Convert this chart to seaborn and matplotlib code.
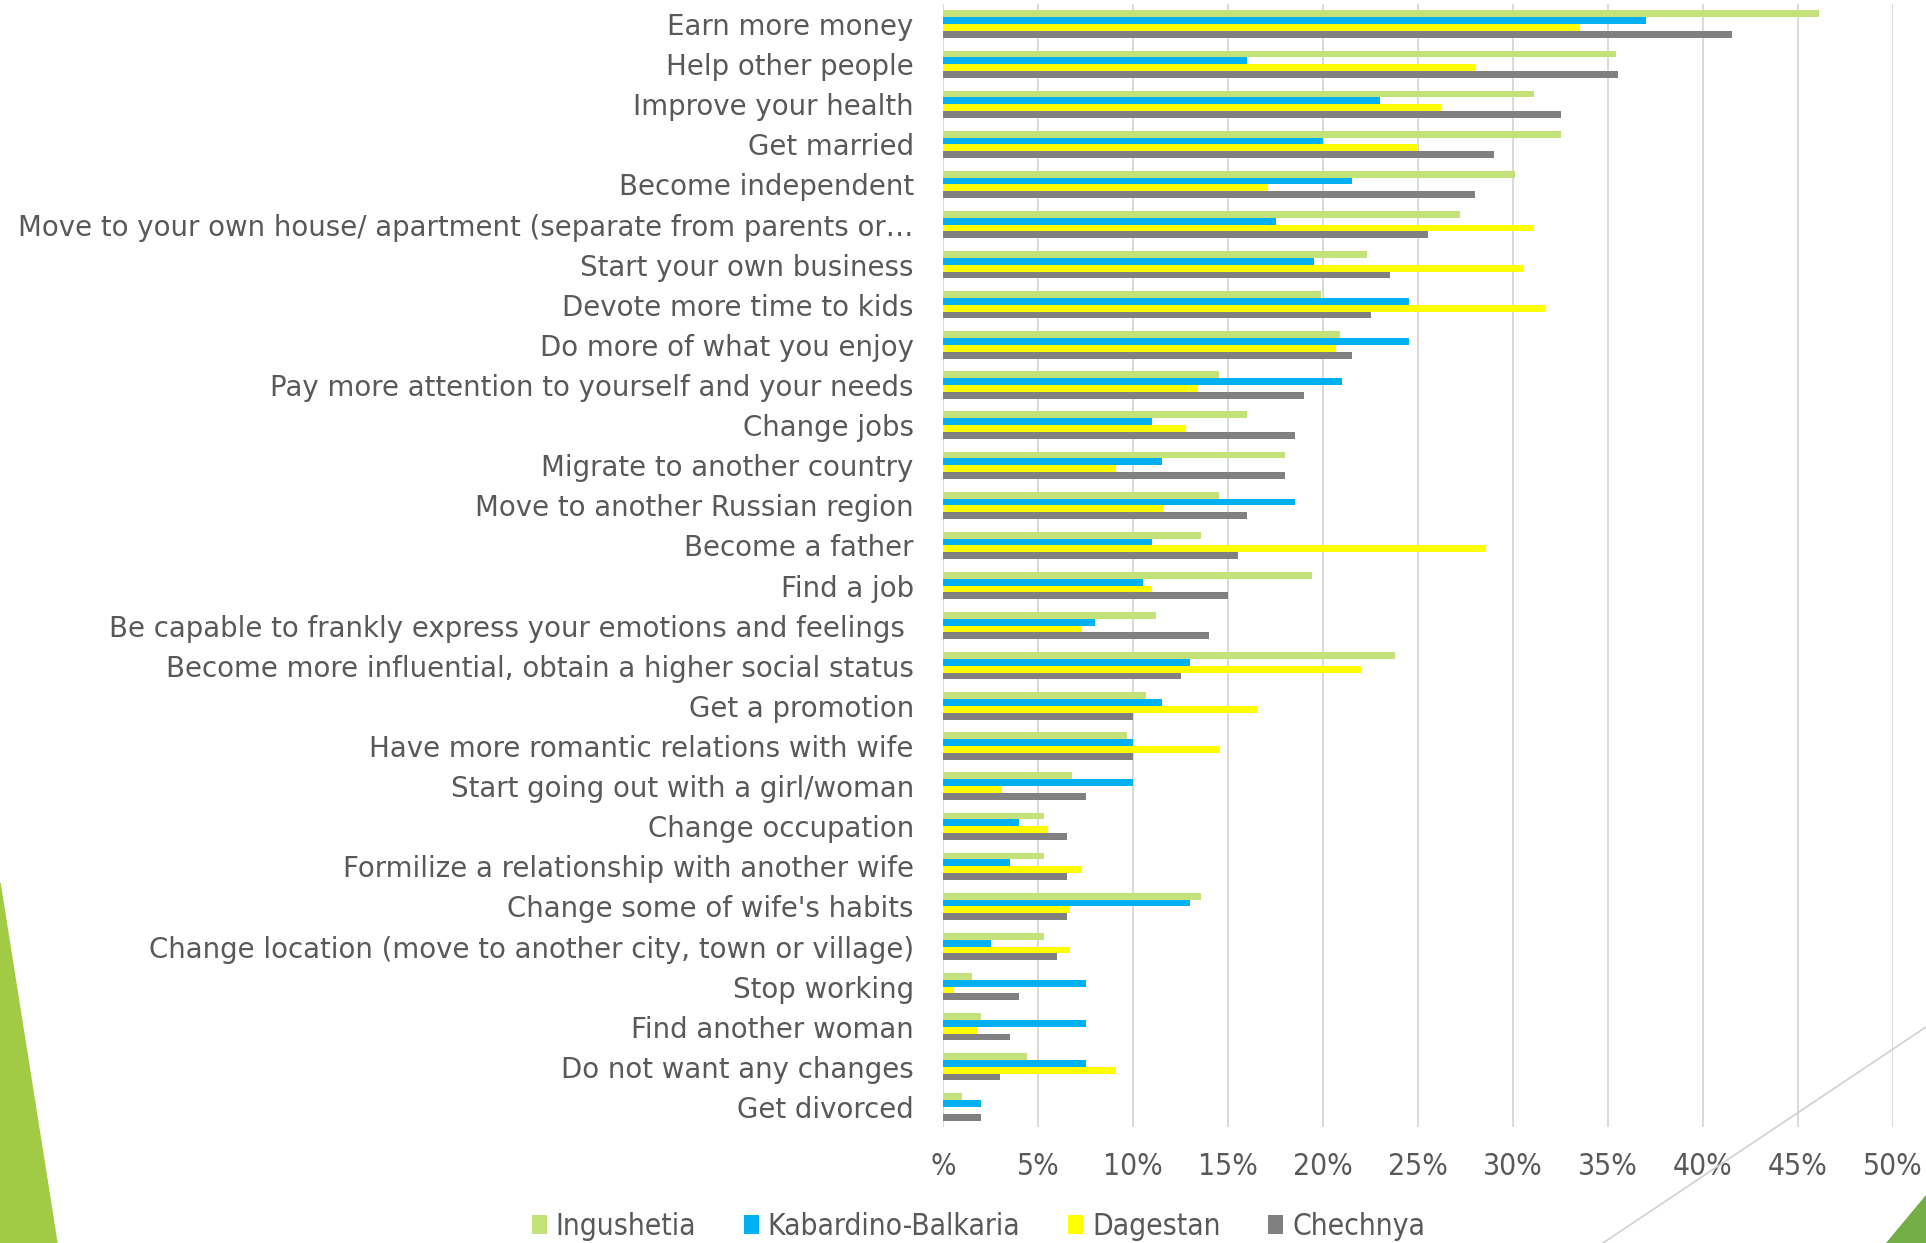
import seaborn as sns
import pandas as pd
import matplotlib.pyplot as plt
import matplotlib.ticker as ticker
from matplotlib.patches import Polygon
from matplotlib.lines import Line2D

items = [
    "Earn more money",
    "Help other people",
    "Improve your health",
    "Get married",
    "Become independent",
    "Move to your own house/ apartment (separate from parents or\u2026",
    "Start your own business",
    "Devote more time to kids",
    "Do more of what you enjoy",
    "Pay more attention to yourself and your needs",
    "Change jobs",
    "Migrate to another country",
    "Move to another Russian region",
    "Become a father",
    "Find a job",
    "Be capable to frankly express your emotions and feelings ",
    "Become more influential, obtain a higher social status",
    "Get a promotion",
    "Have more romantic relations with wife",
    "Start going out with a girl/woman",
    "Change occupation",
    "Formilize a relationship with another wife",
    "Change some of wife's habits",
    "Change location (move to another city, town or village)",
    "Stop working",
    "Find another woman",
    "Do not want any changes",
    "Get divorced",
]

regions = ["Ingushetia", "Kabardino-Balkaria", "Dagestan", "Chechnya"]

ingushetia = [46.1, 35.4, 31.1, 32.5, 30.1, 27.2, 22.3, 19.9, 20.9, 14.5,
              16.0, 18.0, 14.5, 13.6, 19.4, 11.2, 23.8, 10.7, 9.7, 6.8,
              5.3, 5.3, 13.6, 5.3, 1.5, 2.0, 4.4, 1.0]
kabardino = [37.0, 16.0, 23.0, 20.0, 21.5, 17.5, 19.5, 24.5, 24.5, 21.0,
             11.0, 11.5, 18.5, 11.0, 10.5, 8.0, 13.0, 11.5, 10.0, 10.0,
             4.0, 3.5, 13.0, 2.5, 7.5, 7.5, 7.5, 2.0]
dagestan = [33.5, 28.0, 26.2, 25.0, 17.1, 31.1, 30.5, 31.7, 20.7, 13.4,
            12.8, 9.1, 11.6, 28.6, 11.0, 7.3, 22.0, 16.5, 14.6, 3.1,
            5.5, 7.3, 6.7, 6.7, 0.6, 1.8, 9.1, 0.0]
chechnya = [41.5, 35.5, 32.5, 29.0, 28.0, 25.5, 23.5, 22.5, 21.5, 19.0,
            18.5, 18.0, 16.0, 15.5, 15.0, 14.0, 12.5, 10.0, 10.0, 7.5,
            6.5, 6.5, 6.5, 6.0, 4.0, 3.5, 3.0, 2.0]

colors = ["#C3E37A", "#00B0F0", "#FFFF00", "#808080"]

xticks = [0, 5, 10, 15, 20, 25, 30, 35, 40, 45, 50]
xtick_labels = ["%", "5%", "10%", "15%", "20%", "25%", "30%", "35%", "40%", "45%", "50%"]

W, H = 1926, 1243


def set_plot_params():
    sns.set_style("white")
    params = {
        "figure.figsize": (W / 100, H / 100),
        "figure.dpi": 100,
        "font.family": ["DejaVu Sans"],
        "text.color": "#595959",
        "xtick.color": "#595959",
        "ytick.color": "#595959",
    }
    plt.rcParams.update(params)


def px(x, y):
    # pixel position (from top-left) -> figure fraction
    return (x / W, 1 - y / H)


set_plot_params()

df = pd.DataFrame({
    "item": items * 4,
    "region": sum([[r] * len(items) for r in regions], []),
    "value": ingushetia + kabardino + dagestan + chechnya,
})

fig = plt.figure()
ax = fig.add_axes([943 / W, 1 - 1127 / H, 950 / W, 1123 / H])

sns.barplot(
    data=df,
    x="value",
    y="item",
    hue="region",
    order=items,
    hue_order=regions,
    palette=colors,
    orient="h",
    width=0.68,
    saturation=1,
    linewidth=0,
    ax=ax,
    zorder=3,
)

ax.set_xlim(0, 50)
ax.set_ylim(len(items) - 0.5, -0.5)
ax.xaxis.set_major_locator(ticker.FixedLocator(xticks))
ax.set_xticklabels(xtick_labels, fontstretch="condensed", fontsize=21.5)
ax.tick_params(axis="x", length=0, pad=18)
ax.tick_params(axis="y", length=0, pad=21, labelsize=19.9)
ax.set_xlabel("")
ax.set_ylabel("")
ax.grid(axis="x", color="#D9D9D9", linewidth=1.4)
ax.set_axisbelow(True)
sns.despine(ax=ax, left=True, bottom=True)

handles, labels = ax.get_legend_handles_labels()
ax.get_legend().remove()
fig.legend(
    handles,
    labels,
    loc="center",
    bbox_to_anchor=(0.508, 0.013),
    ncol=4,
    frameon=False,
    prop={"stretch": "condensed", "size": 21.5},
    handlelength=0.5,
    handleheight=0.6,
    handletextpad=0.3,
    columnspacing=1.6,
    borderpad=0,
)

# slide decorations
fig.add_artist(Polygon([px(0, 883), px(57, H), px(0, H)], closed=True,
                       transform=fig.transFigure, color="#A2CB45", zorder=0))
fig.add_artist(Line2D([1603 / W, 1.0], [0, 1 - 1027 / H], transform=fig.transFigure,
                      color="#D0D0D0", linewidth=1.2, zorder=10))
fig.add_artist(Polygon([px(1886, H), px(W, H), px(W, 1195)], closed=True,
                       transform=fig.transFigure, color="#72AE44", zorder=10))

fig.savefig("out.png", dpi=100)
